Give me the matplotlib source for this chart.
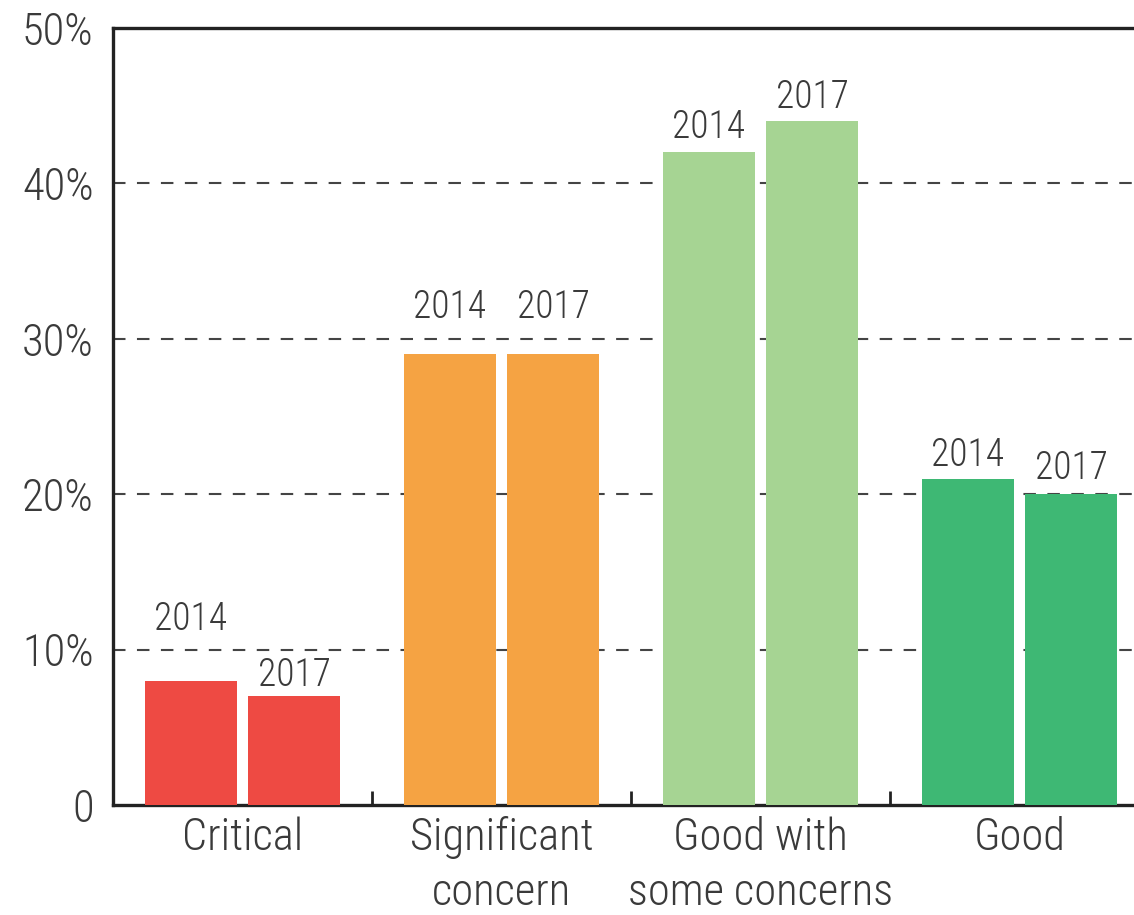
#plot.py
# Grouped bars, 2014 vs 2017 by rating
import numpy as np
from matplotlib import pyplot as plt

categories = ['Critical', 'Significant\nconcern', 'Good with\nsome concerns', 'Good']
vals_2014 = [8, 29, 42, 21]
vals_2017 = [7, 29, 44, 20]
colors = ['#ee4a43', '#f5a343', '#a6d493', '#3eb874']
ytick_vals = [0, 10, 20, 30, 40, 50]
ytick_labels = ['0', '10%', '20%', '30%', '40%', '50%']
# label offsets above the bar tops (points)
off_2014 = [44, 34, 18, 17]
off_2017 = [15, 34, 17, 19]

plt.rcParams['font.family'] = ['Roboto Condensed', 'DejaVu Sans']
plt.rcParams['font.weight'] = 'light'

fig = plt.figure(figsize=(11.34, 9.15), dpi=100)
ax = fig.add_axes([0.0996, 0.1202, 0.9136, 0.8492])

x = np.arange(len(categories))
w = 0.356
d = 0.199
ax.bar(x - d, vals_2014, w, color=colors, zorder=3)
ax.bar(x + d, vals_2017, w, color=colors, zorder=3)

for i in range(len(categories)):
    ax.annotate('2014', (x[i] - d, vals_2014[i]), xytext=(0, off_2014[i]),
                textcoords='offset points', ha='center', va='center',
                fontsize=27, color='#3a3a3a')
    ax.annotate('2017', (x[i] + d, vals_2017[i]), xytext=(0, off_2017[i]),
                textcoords='offset points', ha='center', va='center',
                fontsize=27, color='#3a3a3a')

ax.set_xlim(-0.5, len(categories) - 0.5)
ax.set_ylim(0, 50)
ax.set_yticks(ytick_vals)
ax.set_yticklabels(ytick_labels)
ax.tick_params(axis='y', length=0, pad=14, labelsize=32, labelcolor='#3a3a3a')

# group separators as inward ticks, category names as minor labels
ax.set_xticks(x[:-1] + 0.5)
ax.set_xticklabels([])
ax.tick_params(axis='x', which='major', direction='in', length=10, width=2, color='#222222')
ax.set_xticks(x, minor=True)
ax.set_xticklabels(categories, minor=True)
ax.tick_params(axis='x', which='minor', length=0, pad=8, labelsize=32, labelcolor='#3a3a3a')
for lab in ax.get_xticklabels(minor=True):
    lab.set_linespacing(1.38)

for y in ytick_vals[1:-1]:
    ax.axhline(y, color='#444444', linestyle=(0, (6, 5.5)), linewidth=1.5, zorder=1)

for s in ax.spines.values():
    s.set_linewidth(2.4)
    s.set_color('#222222')

plt.savefig('out.png', dpi=100)
